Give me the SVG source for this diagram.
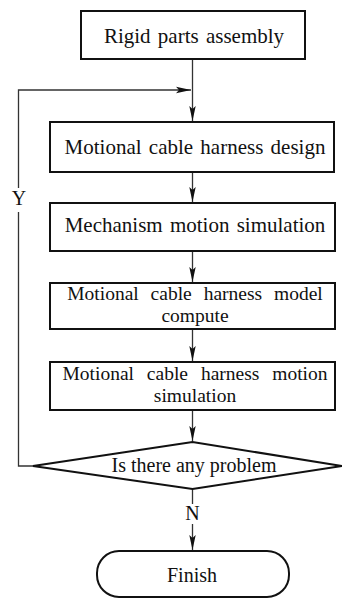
<svg xmlns="http://www.w3.org/2000/svg" width="342" height="598" viewBox="0 0 342 598">
<defs>
<style>
.box{fill:#fff;stroke:#111;stroke-width:2}
.t{font-family:"Liberation Serif","Times New Roman",serif;font-size:21px;fill:#111;text-anchor:middle;word-spacing:2px}
.t2{font-family:"Liberation Serif","Times New Roman",serif;font-size:19.5px;fill:#111;text-anchor:middle;word-spacing:7px}
.l{font-family:"Liberation Serif","Times New Roman",serif;font-size:20px;fill:#111;text-anchor:middle}
.c{fill:none;stroke:#333;stroke-width:1.3}
</style>
<marker id="ah" markerUnits="userSpaceOnUse" markerWidth="16" markerHeight="8" refX="15" refY="4" orient="auto">
<path d="M0,0.8 L15,4 L0,7.2 L3,4 Z" fill="#111"/>
</marker>
</defs>
<g id="connectors">
<line class="c" x1="192.5" y1="59" x2="192.5" y2="121" marker-end="url(#ah)"/>
<polyline class="c" points="33,466 18.5,466 18.5,212"/>
<polyline class="c" points="18.5,188 18.5,90 191,90" marker-end="url(#ah)"/>
<line class="c" x1="192.5" y1="172" x2="192.5" y2="202" marker-end="url(#ah)"/>
<line class="c" x1="192.5" y1="251" x2="192.5" y2="282" marker-end="url(#ah)"/>
<line class="c" x1="192.5" y1="329" x2="192.5" y2="361" marker-end="url(#ah)"/>
<line class="c" x1="192.5" y1="410" x2="192.5" y2="441" marker-end="url(#ah)"/>
<line class="c" x1="192.5" y1="489" x2="192.5" y2="504"/>
<line class="c" x1="192.5" y1="524" x2="192.5" y2="550" marker-end="url(#ah)"/>
<text class="l" x="19" y="205">Y</text>
<text class="l" x="192.5" y="520">N</text>
</g>
<g id="n1">
<rect class="box" x="81" y="11" width="224" height="48"/>
<text class="t" x="194" y="43">Rigid parts assembly</text>
</g>
<g id="n2">
<rect class="box" x="50" y="122" width="284" height="50"/>
<text class="t" x="195" y="154">Motional cable harness design</text>
</g>
<g id="n3">
<rect class="box" x="50" y="203" width="285" height="48"/>
<text class="t" x="195" y="232">Mechanism motion simulation</text>
</g>
<g id="n4">
<rect class="box" x="50" y="283" width="285" height="46"/>
<text class="t2" x="195" y="300">Motional cable harness model</text>
<text class="t2" x="195" y="322">compute</text>
</g>
<g id="n5">
<rect class="box" x="50" y="362" width="285" height="48"/>
<text class="t2" x="195" y="380" style="word-spacing:8px">Motional cable harness motion</text>
<text class="t2" x="195" y="402">simulation</text>
</g>
<g id="n6">
<polygon class="box" points="33,466 192.5,442 342,466 192.5,489"/>
<text class="l" x="194" y="472">Is there any problem</text>
</g>
<g id="n7">
<rect class="box" x="97" y="551" width="192" height="46" rx="22" ry="22"/>
<text class="l" x="192" y="582">Finish</text>
</g>
</svg>
